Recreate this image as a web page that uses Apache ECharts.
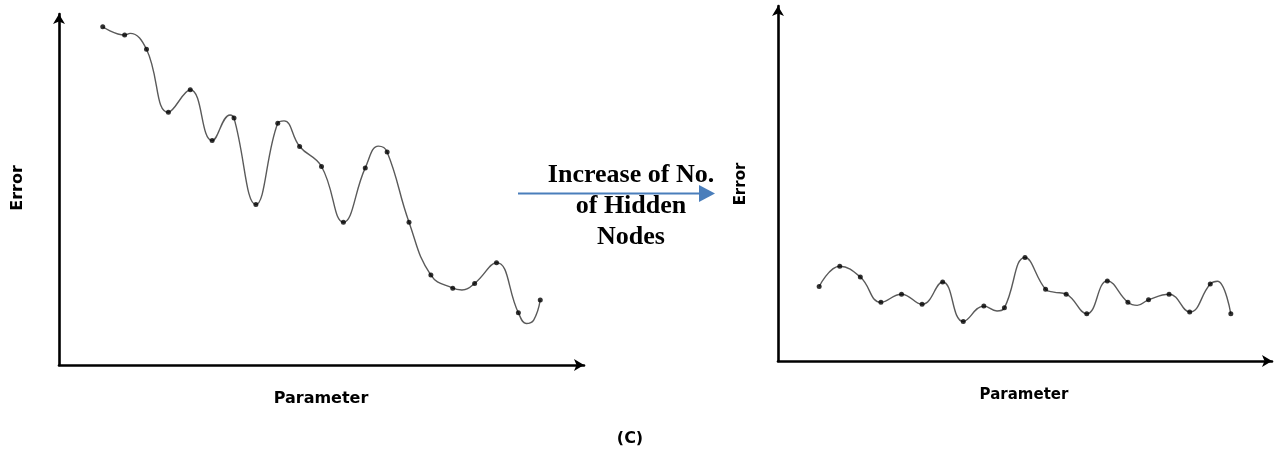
<!DOCTYPE html>
<html>
<head>
<meta charset="utf-8">
<title>Error vs Parameter</title>
<script src="https://cdn.jsdelivr.net/npm/echarts@6/dist/echarts.min.js"></script>
<style>
  html, body { margin: 0; padding: 0; background: #fff; }
  #chart { width: 1274px; height: 455px; }
</style>
</head>
<body>
<div id="chart"></div>
<script>
// Parameter positions of the sampled points (shared by both panels)
const paramSteps = [2, 3, 4, 5, 6, 7, 8, 9, 10, 11, 12, 13, 14, 15, 16, 17, 18, 19, 20, 21, 22];

// Left panel: error before adding hidden nodes (marked samples)
const errorBefore = [9.78, 9.54, 9.13, 7.31, 7.96, 6.49, 7.14, 4.64, 6.99, 6.32, 5.74,
                     4.13, 5.70, 6.16, 4.13, 2.60, 2.22, 2.36, 2.96, 1.51, 1.88];
// Left panel: unmarked turning points of the fitted curve [parameter, error]
const bendsBefore = [[3.25, 9.59], [7.82, 7.23], [10.29, 7.06], [14.6, 6.33],
                     [18.42, 2.17], [21.36, 1.20], [21.7, 1.30]];

// Right panel: error after adding hidden nodes (marked samples)
const errorAfter = [2.13, 2.71, 2.40, 1.68, 1.91, 1.62, 2.26, 1.13, 1.57, 1.52, 2.96,
                    2.05, 1.91, 1.35, 2.29, 1.68, 1.75, 1.91, 1.40, 2.20, 1.35];
// Right panel: unmarked turning points of the fitted curve [parameter, error]
const bendsAfter = [[10.64, 1.43], [13.4, 1.97], [17.45, 1.59], [21.35, 2.28]];

const axisMax = { x: 24, y: 10.15 };

function samples(values) {
  return paramSteps.map((p, i) => [p, values[i]]);
}
function curve(values, bends) {
  return samples(values).concat(bends).sort((a, b) => a[0] - b[0]);
}

const arrowAxisLine = {
  show: true,
  onZero: false,
  symbol: ['none', 'arrow'],
  symbolSize: [9, 10],
  lineStyle: { color: '#000', width: 2.6 }
};
function xAxisFor(gridIndex) {
  return {
    type: 'value', gridIndex, min: 0, max: axisMax.x,
    axisLine: arrowAxisLine, axisTick: { show: false },
    axisLabel: { show: false }, splitLine: { show: false }
  };
}
function yAxisFor(gridIndex) {
  return {
    type: 'value', gridIndex, min: 0, max: axisMax.y,
    axisLine: arrowAxisLine, axisTick: { show: false },
    axisLabel: { show: false }, splitLine: { show: false }
  };
}
function curveSeries(idx, values, bends) {
  return {
    type: 'line', xAxisIndex: idx, yAxisIndex: idx,
    data: curve(values, bends), smooth: 0.45, showSymbol: false,
    lineStyle: { color: '#5a5a5a', width: 1.4 }, silent: true, z: 2
  };
}
function markSeries(idx, values) {
  return {
    type: 'scatter', xAxisIndex: idx, yAxisIndex: idx,
    data: samples(values), symbol: 'circle', symbolSize: 5,
    itemStyle: { color: '#000' }, silent: true, z: 3
  };
}

const axisTitleFont = 'bold 16px "DejaVu Sans"';

const chart = echarts.init(document.getElementById('chart'), null, { renderer: 'canvas' });
chart.setOption({
  animation: false,
  backgroundColor: '#fff',
  grid: [
    { left: 59, top: 14, width: 525, height: 351 },
    { left: 778, top: 6, width: 494, height: 355 }
  ],
  xAxis: [xAxisFor(0), xAxisFor(1)],
  yAxis: [yAxisFor(0), yAxisFor(1)],
  series: [
    curveSeries(0, errorBefore, bendsBefore),
    markSeries(0, errorBefore),
    curveSeries(1, errorAfter, bendsAfter),
    markSeries(1, errorAfter)
  ],
  graphic: [
    { type: 'text', x: 18, y: 188, rotation: Math.PI / 2,
      style: { text: 'Error', font: axisTitleFont, fill: '#000', align: 'center', verticalAlign: 'middle' } },
    { type: 'text', x: 321, y: 399,
      style: { text: 'Parameter', font: axisTitleFont, fill: '#000', align: 'center', verticalAlign: 'middle' } },
    { type: 'text', x: 741, y: 184, rotation: Math.PI / 2,
      style: { text: 'Error', font: 'bold 15px "DejaVu Sans"', fill: '#000', align: 'center', verticalAlign: 'middle' } },
    { type: 'text', x: 1024, y: 395,
      style: { text: 'Parameter', font: 'bold 15px "DejaVu Sans"', fill: '#000', align: 'center', verticalAlign: 'middle' } },
    // transition arrow between the two panels
    { type: 'line', shape: { x1: 518, y1: 193.5, x2: 701, y2: 193.5 },
      style: { stroke: '#4a7ebb', lineWidth: 2 } },
    { type: 'polygon', shape: { points: [[699, 185], [715, 193.5], [699, 202]] },
      style: { fill: '#4a7ebb' } },
    { type: 'text', x: 631, y: 159.5,
      style: { text: 'Increase of No.\nof Hidden\nNodes', font: 'bold 26px "Liberation Serif"',
               lineHeight: 31, fill: '#000', align: 'center', verticalAlign: 'top' } },
    { type: 'text', x: 630, y: 439,
      style: { text: '(C)', font: 'bold 16px "DejaVu Sans"', fill: '#000', align: 'center', verticalAlign: 'middle' } }
  ]
});
</script>
</body>
</html>
